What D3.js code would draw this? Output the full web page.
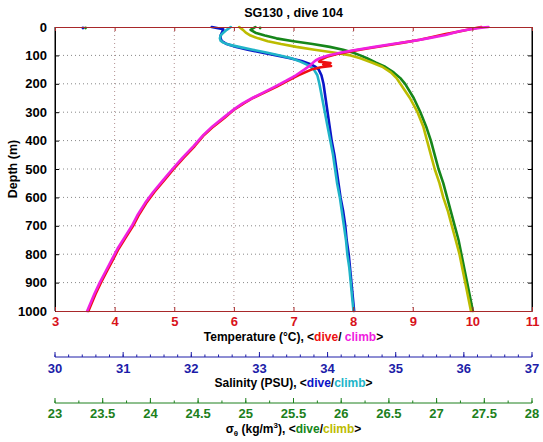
<!DOCTYPE html>
<html><head><meta charset="utf-8">
<script src="https://cdn.jsdelivr.net/npm/d3@7"></script>
<style>body{margin:0;background:#fff}svg{display:block}text{font-family:"Liberation Sans",Arial,sans-serif;font-weight:bold}</style>
</head><body><svg id="c" width="543" height="442"></svg>
<script>
// ---- data: [depth (m), value] ----
const tempDive = [[0,10.15],[5,10.02],[15,9.8],[25,9.55],[35,9.33],[45,9.12],[55,8.84],[65,8.55],[75,8.26],[85,7.97],[95,7.73],[105,7.56],[115,7.46],[122,7.43],[127,7.62],[132,7.5],[137,7.63],[142,7.46],[150,7.3],[170,7.08],[190,6.9],[210,6.72],[230,6.52],[250,6.32],[270,6.16],[290,6.01],[320,5.84],[350,5.66],[380,5.5],[420,5.34],[460,5.16],[500,4.99],[540,4.83],[580,4.67],[620,4.53],[660,4.41],[700,4.31],[740,4.19],[780,4.07],[820,3.97],[860,3.87],[900,3.77],[940,3.68],[970,3.62],[1000,3.56]];
const tempClimb = [[0,10.27],[3,10.12],[8,9.97],[15,9.78],[28,9.55],[40,9.25],[50,8.98],[60,8.66],[70,8.36],[80,8.06],[90,7.8],[100,7.58],[110,7.44],[118,7.37],[125,7.33],[135,7.28],[150,7.18],[170,7.04],[190,6.87],[210,6.69],[230,6.5],[250,6.31],[270,6.14],[290,6.0],[320,5.82],[350,5.64],[380,5.49],[420,5.32],[460,5.14],[500,4.97],[540,4.81],[580,4.65],[620,4.51],[660,4.39],[700,4.29],[740,4.17],[780,4.05],[820,3.95],[860,3.85],[900,3.75],[940,3.66],[970,3.6],[1000,3.54]];
const salDive = [[0,32.3],[8,32.47],[20,32.45],[30,32.43],[40,32.43],[50,32.45],[60,32.52],[70,32.66],[80,32.83],[90,33.03],[100,33.25],[110,33.45],[120,33.62],[130,33.74],[140,33.82],[150,33.87],[170,33.91],[200,33.94],[250,33.97],[300,34.0],[350,34.03],[400,34.06],[450,34.1],[500,34.13],[550,34.16],[600,34.19],[650,34.23],[700,34.26],[750,34.28],[800,34.31],[850,34.33],[900,34.35],[950,34.37],[1000,34.39]];
const salClimb = [[0,32.58],[10,32.52],[20,32.47],[30,32.43],[40,32.42],[48,32.43],[55,32.47],[62,32.55],[70,32.7],[80,32.9],[90,33.1],[100,33.3],[110,33.47],[122,33.6],[135,33.72],[150,33.8],[170,33.85],[200,33.88],[250,33.92],[300,33.96],[350,34.0],[400,34.04],[450,34.08],[500,34.11],[550,34.14],[600,34.18],[650,34.21],[700,34.24],[750,34.27],[800,34.29],[850,34.32],[900,34.34],[950,34.36],[1000,34.38]];
const sigDive = [[0,25.1],[10,25.05],[20,25.1],[30,25.2],[40,25.32],[50,25.5],[60,25.7],[70,25.88],[80,26.02],[90,26.12],[100,26.2],[110,26.27],[125,26.36],[140,26.46],[160,26.55],[180,26.62],[200,26.67],[250,26.76],[300,26.83],[350,26.89],[400,26.94],[450,26.98],[500,27.02],[550,27.07],[600,27.11],[650,27.15],[700,27.19],[750,27.23],[800,27.26],[850,27.29],[900,27.32],[950,27.35],[1000,27.38]];
const sigClimb = [[0,24.93],[10,24.97],[20,25.0],[30,25.05],[40,25.13],[50,25.23],[60,25.37],[70,25.53],[80,25.72],[90,25.92],[100,26.1],[110,26.2],[125,26.32],[140,26.43],[160,26.52],[180,26.58],[200,26.62],[250,26.72],[300,26.8],[350,26.86],[400,26.9],[450,26.94],[500,26.98],[550,27.03],[600,27.07],[650,27.12],[700,27.16],[750,27.2],[800,27.24],[850,27.27],[900,27.3],[950,27.33],[1000,27.36]];
const salSurfaceSpikes = [[0,30.41]];
const sigSurfaceSpikes = [[0,23.32],[0,25.15]];
const depthTicks = [0,100,200,300,400,500,600,700,800,900,1000];
const tempTicks = [3,4,5,6,7,8,9,10,11];
const salTicks = [30,31,32,33,34,35,36,37];
const sigTicks = [23,23.5,24,24.5,25,25.5,26,26.5,27,27.5,28];

const L=55,R=532,T=27,B=311;
const svg=d3.select("#c");
const y=d3.scaleLinear().domain([0,1000]).range([T,B]);
const xT=d3.scaleLinear().domain([3,11]).range([L,R]);
const xS=d3.scaleLinear().domain([30,37]).range([L,R]);
const xG=d3.scaleLinear().domain([23,28]).range([L,R]);

const cRed="#d8121a", cTempAx="#a8282a", cBlue="#1c1ca8", cGreen="#1c801c";

// grid
svg.append("g").selectAll("line").data(tempTicks.slice(1,-1)).join("line")
  .attr("x1",d=>xT(d)).attr("x2",d=>xT(d)).attr("y1",T).attr("y2",B)
  .attr("stroke","#b09090").attr("stroke-width",1).attr("stroke-dasharray","1,3");
svg.append("g").selectAll("line").data(depthTicks.slice(1,-1)).join("line")
  .attr("x1",L).attr("x2",R).attr("y1",d=>y(d)).attr("y2",d=>y(d))
  .attr("stroke","#888").attr("stroke-width",1).attr("stroke-dasharray","1,3");

// profiles
const line=(xs)=>d3.line().x(d=>xs(d[1])).y(d=>y(d[0])).curve(d3.curveLinear);
const series=[
  [salDive,xS,"#0a14c8"],[salClimb,xS,"#20b4c8"],
  [sigDive,xG,"#16861a"],[sigClimb,xG,"#bcbc00"],
  [tempDive,xT,"#ee1010"],[tempClimb,xT,"#f020e0"]
];
series.forEach(([d,xs,c])=>{
  svg.append("path").datum(d).attr("d",line(xs)).attr("fill","none")
    .attr("stroke",c).attr("stroke-width",2.6).attr("stroke-linejoin","round").attr("stroke-linecap","round");
});
svg.append("g").selectAll("circle").data(salSurfaceSpikes).join("circle")
  .attr("cx",d=>xS(d[1])).attr("cy",d=>y(d[0])+1).attr("r",1.4).attr("fill","#0a14c8");
svg.append("g").selectAll("circle").data(sigSurfaceSpikes).join("circle")
  .attr("cx",d=>xG(d[1])).attr("cy",d=>y(d[0])+1).attr("r",1.4).attr("fill","#16861a");

// frame
svg.append("line").attr("x1",L).attr("x2",L).attr("y1",T).attr("y2",B).attr("stroke","#000");
svg.append("line").attr("x1",R).attr("x2",R).attr("y1",T).attr("y2",B).attr("stroke","#000");

// depth axes
const yl=d3.axisLeft(y).tickValues(depthTicks).tickFormat(d3.format("d")).tickSizeInner(-4).tickSizeOuter(0).tickPadding(8);
const gy=svg.append("g").attr("transform",`translate(${L},0)`).call(yl);
gy.select(".domain").attr("stroke","#000");
gy.selectAll("text").attr("font-size",13).attr("font-weight","bold").attr("fill","#000").attr("font-family","Liberation Sans, Arial");
const yr=d3.axisRight(y).tickValues(depthTicks).tickSizeInner(-4).tickSizeOuter(0).tickFormat("");
svg.append("g").attr("transform",`translate(${R},0)`).call(yr).select(".domain").attr("stroke","#000");

// temp axes top/bottom
const tb=d3.axisBottom(xT).tickValues(tempTicks).tickFormat(d3.format("d")).tickSizeInner(-4).tickSizeOuter(0).tickPadding(6);
const gb=svg.append("g").attr("transform",`translate(0,${B})`).call(tb);
gb.select(".domain").attr("stroke",cTempAx);
gb.selectAll(".tick line").attr("stroke",cTempAx);
gb.selectAll("text").attr("font-size",13).attr("fill",cRed).attr("font-family","Liberation Sans, Arial");
const tt=d3.axisTop(xT).tickValues(tempTicks).tickSizeInner(-4).tickSizeOuter(0).tickFormat("");
const gt=svg.append("g").attr("transform",`translate(0,${T})`).call(tt);
gt.select(".domain").attr("stroke",cTempAx);
gt.selectAll(".tick line").attr("stroke",cTempAx);

// extra horizontal axes
function extraAxis(scale,ticks,minorStep,yPos,color,labelDy){
  const g=svg.append("g").attr("transform",`translate(0,${yPos})`);
  const d0=scale.domain();
  const minors=d3.range(d0[0],d0[1]+1e-9,minorStep);
  g.append("line").attr("x1",L).attr("x2",R).attr("stroke",color);
  g.selectAll("line.mn").data(minors).join("line").attr("class","mn")
    .attr("x1",d=>scale(d)).attr("x2",d=>scale(d)).attr("y1",0).attr("y2",-2.5).attr("stroke",color);
  g.selectAll("line.mj").data(ticks).join("line").attr("class","mj")
    .attr("x1",d=>scale(d)).attr("x2",d=>scale(d)).attr("y1",0).attr("y2",-5).attr("stroke",color);
  g.selectAll("text").data(ticks).join("text").attr("x",d=>scale(d)).attr("y",labelDy)
    .attr("text-anchor","middle").attr("font-size",13).attr("fill",color).text(d=>d);
}
extraAxis(xS,salTicks,0.2,357,cBlue,16);
extraAxis(xG,sigTicks,0.25,403,cGreen,15);

// titles
const cx=(L+R)/2;
svg.append("text").attr("x",cx).attr("y",17).attr("text-anchor","middle").attr("font-size",12.5).text("SG130 , dive 104");
svg.append("text").attr("transform",`translate(17,${(T+B)/2}) rotate(-90)`).attr("text-anchor","middle").attr("font-size",12.5).text("Depth (m)");

const t1=svg.append("text").attr("x",cx).attr("y",341).attr("text-anchor","middle").attr("font-size",12);
t1.append("tspan").text("Temperature (°C), <");
t1.append("tspan").attr("fill","#ee1010").text("dive");
t1.append("tspan").text("/ ");
t1.append("tspan").attr("fill","#f020e0").text("climb");
t1.append("tspan").text(">");

const t2=svg.append("text").attr("x",cx).attr("y",387).attr("text-anchor","middle").attr("font-size",12);
t2.append("tspan").text("Salinity (PSU), <");
t2.append("tspan").attr("fill","#0a14c8").text("dive");
t2.append("tspan").text("/");
t2.append("tspan").attr("fill","#20b4c8").text("climb");
t2.append("tspan").text(">");

const t3=svg.append("text").attr("x",cx).attr("y",433).attr("text-anchor","middle").attr("font-size",12);
t3.append("tspan").text("σ");
t3.append("tspan").attr("font-size",8).attr("dy",2.5).text("θ");
t3.append("tspan").attr("dy",-2.5).text(" (kg/m");
t3.append("tspan").attr("font-size",8).attr("dy",-5).text("3");
t3.append("tspan").attr("dy",5).text("), <");
t3.append("tspan").attr("fill","#16861a").text("dive");
t3.append("tspan").text("/");
t3.append("tspan").attr("fill","#bcbc00").text("climb");
t3.append("tspan").text(">");
</script></body></html>
